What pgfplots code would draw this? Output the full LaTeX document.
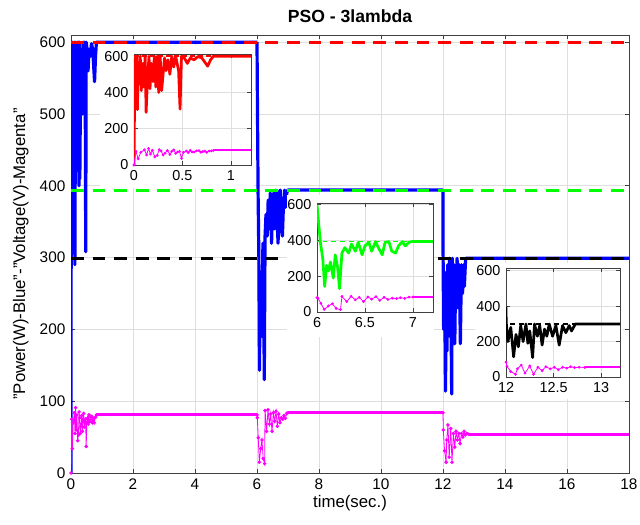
\documentclass[border=0pt]{standalone}
\usepackage{pgfplots}
\usepackage{pgfplotstable}
\pgfplotsset{compat=1.18}
\usepackage{fontspec}
\setmainfont{Liberation Sans}

\pgfplotstableread{
t P
0 0
0.01 590
0.02 420
0.03 600
0.035 305
0.045 560
0.055 470
0.065 600
0.075 410
0.09 560
0.10 430
0.115 600
0.125 290
0.14 480
0.155 600
0.165 420
0.18 560
0.195 460
0.21 600
0.225 430
0.24 600
0.255 400
0.27 600
0.285 410
0.30 500
0.315 590
0.33 520
0.35 580
0.37 500
0.39 600
0.41 540
0.43 600
0.46 520
0.475 308
0.49 600
0.52 590
0.55 560
0.58 590
0.62 580
0.66 598
0.70 590
0.74 560
0.76 545
0.79 580
0.82 600
6.0 600
}\powA

\pgfplotstableread{
t P
6.0 600
6.035 390
6.06 300
6.08 143
6.10 260
6.12 230
6.14 280
6.17 190
6.19 320
6.215 250
6.235 130
6.26 330
6.29 360
6.33 330
6.36 380
6.40 340
6.43 390
6.47 320
6.50 370
6.54 390
6.57 340
6.61 394
6.64 360
6.68 320
6.71 390
6.75 394
6.78 340
6.82 330
6.85 370
6.89 394
6.92 370
6.96 390
6.99 394
12.0 394
}\powB

\pgfplotstableread{
t P
12.0 394
12.002 310
12.02 200
12.05 280
12.08 114
12.105 240
12.13 170
12.155 290
12.18 200
12.21 299
12.23 190
12.25 260
12.28 110
12.30 299
12.33 230
12.355 290
12.38 180
12.405 270
12.43 230
12.455 299
12.49 230
12.525 290
12.56 180
12.595 290
12.63 250
12.665 290
12.69 260
12.73 299
12.79 299
18 299
}\powC

\pgfplotstableread{
t V
0 0
0.02 75
0.043 34
0.07 70
0.108 84
0.13 55
0.15 91
0.17 60
0.19 81
0.215 45
0.24 53
0.26 85
0.28 77
0.30 55
0.32 65
0.345 80
0.37 58
0.39 75
0.41 83
0.43 64
0.45 72
0.47 75
0.49 37
0.51 70
0.54 77
0.56 68
0.58 81
0.60 72
0.62 72
0.645 78
0.67 79
0.69 70
0.71 74
0.73 76
0.75 70
0.775 77
0.80 78
0.82 81
}\volA

\pgfplotstableread{
t V
6.0 81
6.01 77
6.04 49
6.075 15
6.12 34
6.16 46
6.20 20
6.245 13
6.26 87
6.31 58
6.355 88
6.40 68
6.44 82
6.485 58
6.53 84
6.57 72
6.615 86
6.655 65
6.70 82
6.74 70
6.785 77
6.83 75
6.87 80
6.915 76
6.96 83
7.0 84
}\volB

\pgfplotstableread{
t V
12.0 84
12.01 60
12.05 31
12.1 15
12.12 46
12.16 67
12.2 22
12.25 62
12.29 15
12.335 55
12.38 36
12.42 58
12.465 46
12.51 55
12.55 41
12.595 55
12.64 50
12.68 58
12.72 53
12.77 55
12.83 54
}\volC

\pgfplotstableread{
t V
0.82 81
6.0 81
}\volFlatA
\pgfplotstableread{
t V
7.0 84
12.0 84
}\volFlatB
\pgfplotstableread{
t V
12.83 54
18 54
}\volFlatC

\pgfplotstableread{
t R
0 600
18 600
}\refRed
\pgfplotstableread{
t R
0 394
18 394
}\refGreen
\pgfplotstableread{
t R
0 299
18 299
}\refBlack

\definecolor{mblue}{RGB}{0,0,255}
\definecolor{mred}{RGB}{255,0,0}
\definecolor{mgreen}{RGB}{0,255,0}
\definecolor{mmag}{RGB}{255,0,255}

\pgfplotsset{
  mystyle/.style={
    scale only axis,
    anchor=south west,
    grid=major,
    major grid style={black!13, line width=0.4pt},
    tick align=inside,
    major tick length=2.5pt,
    axis line style={black!75, line width=0.5pt},
    tick style={black!75, line width=0.4pt},
    /pgf/number format/assume math mode=true,
    clip=true,
  },
  voltline/.style={mmag, line width=0.5pt, mark=*, mark size=0.85pt, mark options={solid, fill=mmag, draw=mmag}},
  voltflat/.style={mmag, line width=1.8pt},
}

\begin{document}
\begin{tikzpicture}
\path[use as bounding box] (0,0) rectangle (400pt,328.125pt);

\begin{axis}[mystyle,
  at={(44.375pt,32.5pt)},
  width=348.75pt, height=273.75pt,
  xmin=0, xmax=18, ymin=0, ymax=610,
  xtick={0,2,...,18}, ytick={0,100,...,600},
  ticklabel style={font=\fontsize{9.6}{11}\selectfont},
  xlabel={time(sec.)},
  ylabel={"Power(W)-Blue"-"Voltage(V)-Magenta"},
  label style={font=\fontsize{10.5}{12}\selectfont},
  title={PSO - 3lambda},
  title style={font=\fontsize{11}{13}\selectfont\bfseries, yshift=-2pt},
  xlabel style={yshift=3pt},
]
\addplot[mblue, line width=2pt, line join=round] table[x=t,y=P] {\powA};
\addplot[mblue, line width=2pt, line join=round] table[x=t,y=P] {\powB};
\addplot[mblue, line width=2pt, line join=round] table[x=t,y=P] {\powC};
\addplot[mred, line width=1.9pt, dash pattern=on 8pt off 5.5pt] table[x=t,y=R] {\refRed};
\addplot[mgreen, line width=1.9pt, dash pattern=on 8pt off 5.5pt] table[x=t,y=R] {\refGreen};
\addplot[black, line width=1.9pt, dash pattern=on 8pt off 5.5pt] table[x=t,y=R] {\refBlack};
\addplot[voltflat] table[x=t,y=V] {\volFlatA};
\addplot[voltflat] table[x=t,y=V] {\volFlatB};
\addplot[voltflat] table[x=t,y=V] {\volFlatC};
\addplot[voltline] table[x=t,y=V] {\volA};
\addplot[voltline] table[x=t,y=V] {\volB};
\addplot[voltline] table[x=t,y=V] {\volC};
\end{axis}

% white panels behind the insets
\fill[white] (62.5pt,210.625pt) rectangle (158.75pt,300pt);
\fill[white] (179.375pt,117.5pt) rectangle (271.25pt,206.25pt);
\fill[white] (296.875pt,78.75pt) rectangle (389.375pt,163.75pt);

% inset 1
\begin{axis}[mystyle,
  at={(83.75pt,225pt)},
  width=73.125pt, height=69.375pt,
  xmin=0, xmax=1.207, ymin=0, ymax=612,
  xtick={0,0.5,1}, ytick={0,200,400,600},
  ticklabel style={font=\fontsize{9}{10}\selectfont},
  axis background/.style={fill=white},
]
\addplot[mred, line width=0.9pt, dash pattern=on 3pt off 2pt] table[x=t,y=R] {\refRed};
\addplot[mred, line width=1.7pt, line join=round] table[x=t,y=P] {\powA};
\addplot[mmag, line width=1.2pt] table[x=t,y=V] {\volFlatA};
\addplot[voltline, mark size=0.6pt] table[x=t,y=V] {\volA};
\end{axis}

% inset 2
\begin{axis}[mystyle,
  at={(198.125pt,133.125pt)},
  width=72.5pt, height=68.125pt,
  xmin=6, xmax=7.21, ymin=0, ymax=610,
  xtick={6,6.5,7}, ytick={0,200,400,600},
  ticklabel style={font=\fontsize{9}{10}\selectfont},
  axis background/.style={fill=white},
]
\addplot[mgreen, line width=0.9pt, dash pattern=on 3pt off 2.5pt] table[x=t,y=R] {\refGreen};
\addplot[mgreen, line width=1.7pt, line join=round] table[x=t,y=P] {\powB};
\addplot[mmag, line width=1.2pt] table[x=t,y=V] {\volFlatB};
\addplot[voltline, mark size=0.6pt] table[x=t,y=V] {\volB};
\end{axis}

% inset 3
\begin{axis}[mystyle,
  at={(316.25pt,92.5pt)},
  width=71.25pt, height=68.125pt,
  xmin=12, xmax=13.2, ymin=0, ymax=615,
  xtick={12,12.5,13}, ytick={0,200,400,600},
  ticklabel style={font=\fontsize{9}{10}\selectfont},
  axis background/.style={fill=white},
]
\addplot[black, line width=0.9pt, dash pattern=on 3pt off 2.5pt] table[x=t,y=R] {\refBlack};
\addplot[black, line width=1.7pt, line join=round] table[x=t,y=P] {\powC};
\addplot[mmag, line width=1.2pt] table[x=t,y=V] {\volFlatC};
\addplot[voltline, mark size=0.6pt] table[x=t,y=V] {\volC};
\end{axis}
\end{tikzpicture}
\end{document}
